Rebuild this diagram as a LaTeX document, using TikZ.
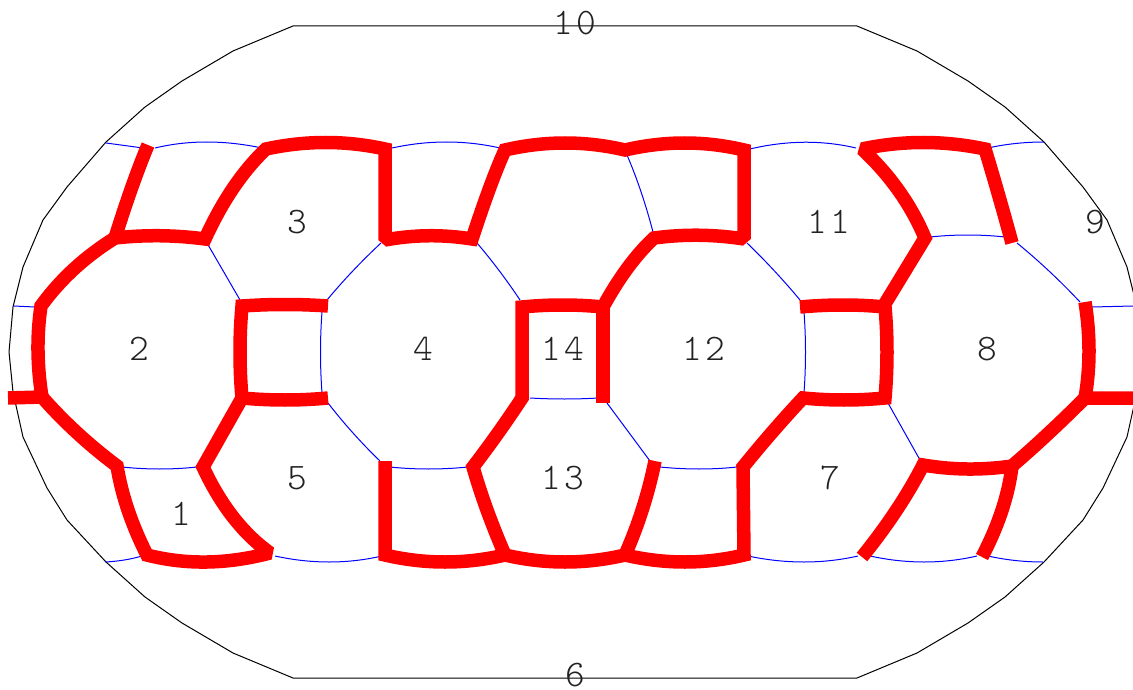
\documentclass[tikz,border=0pt]{standalone}
\usepackage{fontspec}
\setmonofont[LetterSpace=8]{Latin Modern Mono Light}
\usepackage{xcolor}
\usetikzlibrary{calc}
\definecolor{puzzlered}{RGB}{255, 0, 0}
\definecolor{puzzleblue}{RGB}{0, 0, 255}
\definecolor{labelgray}{RGB}{34, 34, 34}
\tikzset{
    frontier/.style={line width=1pt, color=black, line join=round},
    thinedge/.style={line width=1pt, color=puzzleblue},
    cutedge/.style={line width=13.5pt, color=puzzlered, miter limit=1.5},
    cell/.style={inner sep=0pt, color=labelgray, font=\ttfamily\fontsize{37.5}{40}\selectfont},
    bow/.style={to path={.. controls ($(\tikztostart)!2/3!#1$) and ($(\tikztotarget)!2/3!#1$) .. (\tikztotarget)}},
}
\begin{document}
\begin{tikzpicture}[x=1pt, y=-1pt]
    \path[use as bounding box, clip] (0, 0) rectangle (1133, 690);

    \draw[frontier] (293, 26) -- (857, 26) -- (917, 51) -- (968, 81) -- (1005, 107) -- (1044, 142) -- (1083, 187) -- (1107, 220) -- (1127, 267) -- (1137, 307) -- (1141, 352) -- (1137, 392) -- (1133, 410) -- (1127, 437) -- (1103, 488) -- (1083, 520) -- (1044, 562) -- (1005, 597) -- (968, 623) -- (917, 653) -- (857, 678) -- (293, 678) -- (233, 653) -- (182, 623) -- (145, 597) -- (106, 562) -- (67, 520) -- (47, 488) -- (23, 437) -- (17, 410) -- (13, 392) -- (9, 352) -- (13, 307) -- (23, 267) -- (43, 220) -- (67, 187) -- (106, 142) -- (145, 107) -- (182, 81) -- (233, 51) -- cycle;

    % top row
    \draw[thinedge] (106, 143) -- (143, 148);
    \draw[thinedge] (155, 148) to[bow={(205, 136)}] (262, 148);
    \draw[thinedge] (392, 148) to[bow={(447, 136)}] (500, 148);
    \draw[thinedge] (750, 149) to[bow={(805, 136)}] (856, 148);
    \draw[thinedge] (988, 148) to[bow={(1015, 142)}] (1044, 142);
    % upper slanted
    \draw[thinedge] (627, 155) to[bow={(642, 190)}] (653, 232);
    \draw[thinedge] (207, 243) -- (240, 300);
    \draw[thinedge] (327, 300) to[bow={(352, 270)}] (381, 243);
    \draw[thinedge] (477, 243) to[bow={(500, 270)}] (520, 300);
    \draw[thinedge] (747, 243) to[bow={(775, 270)}] (800, 300);
    \draw[thinedge] (930, 237) to[bow={(968, 233)}] (1005, 237);
    \draw[thinedge] (1017, 243) to[bow={(1050, 270)}] (1080, 302);
    % middle
    \draw[thinedge] (14, 306) -- (35, 307);
    \draw[thinedge] (1092, 307) -- (1133, 306);
    \draw[thinedge] (322, 312) to[bow={(319, 352)}] (322, 393);
    \draw[thinedge] (804, 312) to[bow={(807, 352)}] (804, 393);
    \draw[thinedge] (530, 398) to[bow={(565, 400)}] (598, 398);
    % lower slanted
    \draw[thinedge] (328, 403) to[bow={(352, 434)}] (380, 461);
    \draw[thinedge] (607, 403) -- (650, 461);
    \draw[thinedge] (888, 403) -- (920, 460);
    \draw[thinedge] (122, 467) to[bow={(160, 471)}] (197, 467);
    \draw[thinedge] (390, 467) to[bow={(428, 471)}] (468, 467);
    \draw[thinedge] (660, 467) to[bow={(700, 471)}] (737, 467);
    % bottom row
    \draw[thinedge] (105, 562) to[bow={(125, 561)}] (142, 556);
    \draw[thinedge] (275, 556) to[bow={(330, 568)}] (382, 556);
    \draw[thinedge] (748, 556) to[bow={(805, 568)}] (858, 556);
    \draw[thinedge] (870, 556) to[bow={(925, 568)}] (977, 556);
    \draw[thinedge] (988, 556) to[bow={(1015, 562)}] (1043, 562);

    % long cut across the middle
    \draw[cutedge] (42, 397) to[bow={(34.5, 350)}] (41, 306) to[bow={(70, 266)}] (115, 238) to[bow={(160, 233)}] (205, 239) to[bow={(231, 182)}] (266, 149) to[bow={(326, 136)}] (385, 149) -- (385, 240) to[bow={(428, 232)}] (472, 239) to[bow={(491.5, 179.5)}] (505, 150) to[bow={(565, 136)}] (625, 150) to[bow={(685, 136)}] (744, 150) -- (744, 239) to[bow={(699, 232)}] (654, 238) to[bow={(627, 263)}] (603, 307) to[bow={(563, 303)}] (522, 307) -- (522, 398) to[bow={(499, 433)}] (473, 467) to[bow={(485, 509)}] (505, 555) to[bow={(565, 569)}] (625, 555) to[bow={(685, 569)}] (744, 555) -- (743, 467) to[bow={(773, 430)}] (803, 398) to[bow={(844, 402)}] (885, 398) to[bow={(889, 352)}] (885, 307) to[bow={(844, 303)}] (800, 307);
    \draw[cutedge] (148, 145) to[bow={(132.5, 182)}] (115, 238);
    \draw[cutedge] (883, 307) -- (925, 238) to[bow={(904, 188)}] (862, 149) to[bow={(923, 136)}] (985, 149) to[bow={(997.5, 190)}] (1012, 243);
    \draw[cutedge] (1085, 302) to[bow={(1093, 352)}] (1085, 398) -- (1133, 398);
    \draw[cutedge] (1085, 398) to[bow={(1047, 436)}] (1012, 466) to[bow={(967, 472.5)}] (923, 465) to[bow={(900, 510)}] (862, 557);
    \draw[cutedge] (1012, 466) to[bow={(1007, 509)}] (982, 557);
    \draw[cutedge] (8, 398) -- (42, 397) to[bow={(75, 434.5)}] (117, 466) to[bow={(124, 509.5)}] (147, 555) to[bow={(205.5, 570)}] (270, 553) to[bow={(229.5, 524)}] (203, 467) -- (242, 398) to[bow={(285, 402)}] (328, 398);
    \draw[cutedge] (242, 398) to[bow={(238, 352)}] (242, 306) to[bow={(285, 303)}] (328, 306);
    \draw[cutedge] (385, 461) -- (385, 555) to[bow={(445, 569)}] (505, 555);
    \draw[cutedge] (625, 555) to[bow={(645, 510)}] (655, 461);
    \draw[cutedge] (603, 403) -- (603, 307);

    \node[cell] (cell1) at (181, 514) {1};
    \node[cell] (cell2) at (139, 349) {2};
    \node[cell] (cell3) at (297, 222) {3};
    \node[cell] (cell4) at (423, 349) {4};
    \node[cell] (cell5) at (297, 478) {5};
    \node[cell] (cell6) at (575, 675) {6};
    \node[cell] (cell7) at (830, 478) {7};
    \node[cell] (cell8) at (987, 349) {8};
    \node[cell] (cell9) at (1095, 222) {9};
    \node[cell] (cell10) at (575, 23) {10};
    \node[cell] (cell11) at (829, 222) {11};
    \node[cell] (cell12) at (704, 349) {12};
    \node[cell] (cell13) at (563, 478) {13};
    \node[cell] (cell14) at (563, 349) {14};
\end{tikzpicture}
\end{document}
